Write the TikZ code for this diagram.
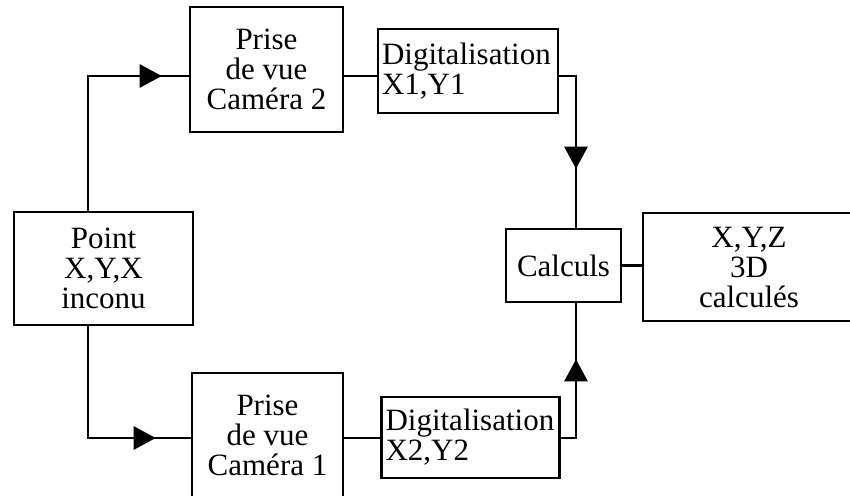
\documentclass[tikz,border=0pt]{standalone}
\usepackage{fontspec}
\setmainfont{Liberation Serif}
\usetikzlibrary{arrows.meta, decorations.markings}

\begin{document}
\begin{tikzpicture}[
  x=1pt, y=-1pt,
  box/.style={draw, line width=2.6pt, align=center, inner sep=3pt,
    font=\fontsize{31}{30}\selectfont},
  digbox/.style={box, align=left, inner xsep=4pt},
  flow/.style={line width=2.8pt},
  mid arrow/.style={postaction={decorate}, decoration={markings,
    mark=at position #1 with {\arrow{Triangle[length=22pt, width=23pt]}}}}
]
\useasboundingbox (0,0) rectangle (850,495);
\node[box, minimum width=179pt, minimum height=113pt] (point) at (103.5,268.5) {Point\\X,Y,X\\inconu};
\node[box, minimum width=153pt, minimum height=125pt] (cam2) at (266.5,69.5) {Prise\\de vue\\Caméra 2};
\node[box, minimum width=151pt, minimum height=125pt] (cam1) at (267.5,435.5) {Prise\\de vue\\Caméra 1};
\node[digbox, text width=172pt, minimum height=84pt] (dig1) at (468,71) {Digitalisation\\X1,Y1};
\node[digbox, text width=170pt, minimum height=81pt] (dig2) at (470.5,437.5) {Digitalisation\\X2,Y2};
\node[box, minimum width=115pt, minimum height=73pt] (calc) at (563.5,265.5) {Calculs};
\node[box, minimum width=212pt, minimum height=108pt] (xyz) at (749,267) {X,Y,Z\\3D\\calculés};
\coordinate (up) at (88,76);
\coordinate (down) at (88,438);
\coordinate (rup) at (576,76);
\coordinate (rdown) at (576,438);
\draw[flow, mid arrow=-27pt] (point.north -| up) -- (up) -- (cam2.west |- up);
\draw[flow] (cam2.east |- up) -- (dig1.west |- up);
\draw[flow, mid arrow=-59pt] (dig1.east |- rup) -- (rup) -- (calc.north -| rup);
\draw[flow] (calc.east) -- (xyz.west |- calc.east);
\draw[flow, mid arrow=-35pt] (point.south -| down) -- (down) -- (cam1.west |- down);
\draw[flow] (cam1.east |- down) -- (dig2.west |- down);
\draw[flow, mid arrow=-56pt] (dig2.east |- rdown) -- (rdown) -- (calc.south -| rdown);
\end{tikzpicture}
\end{document}
